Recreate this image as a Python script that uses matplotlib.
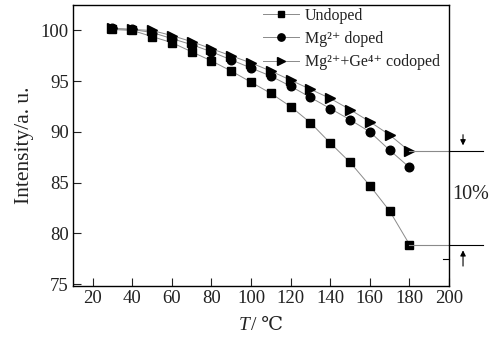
import matplotlib
matplotlib.use('Agg')
import matplotlib.pyplot as plt
import matplotlib.transforms as mtransforms

# --- data ---
temps = [30, 40, 50, 60, 70, 80, 90, 100, 110, 120, 130, 140, 150, 160, 170, 180]
undoped = [100.1, 100.0, 99.4, 98.8, 97.9, 97.0, 96.0, 94.9, 93.8, 92.5, 90.9, 88.9, 87.0, 84.7, 82.2, 78.9]
mg_doped = [100.2, 100.1, 99.8, 99.2, 98.6, 97.9, 97.1, 96.3, 95.5, 94.5, 93.4, 92.3, 91.2, 90.0, 88.2, 86.5]
codoped = [100.2, 100.1, 100.0, 99.5, 98.9, 98.2, 97.5, 96.8, 96.0, 95.1, 94.2, 93.3, 92.2, 91.0, 89.7, 88.1]
labels = ['Undoped', 'Mg\u00b2\u207a doped', 'Mg\u00b2\u207a+Ge\u2074\u207a codoped']
xticks = list(range(20, 201, 20))
yticks = [75, 80, 85, 90, 95, 100]

plt.rcParams['font.family'] = ['Liberation Serif', 'DejaVu Serif', 'DejaVu Sans']

fig = plt.figure(figsize=(4.99, 3.41), dpi=100)
ax = fig.add_axes([0.146, 0.161, 0.754, 0.824])

line_kw = dict(color='#8a8a8a', lw=0.7, markerfacecolor='black', markeredgecolor='black')
ax.plot(temps, undoped, marker='s', ms=5.8, label=labels[0], **line_kw)
ax.plot(temps, mg_doped, marker='o', ms=6.2, label=labels[1], **line_kw)
ax.plot(temps, codoped, marker='>', ms=6.5, label=labels[2], **line_kw)

ax.set_xlim(10, 200)
ax.set_ylim(74.8, 102.5)
ax.set_xticks(xticks)
ax.set_yticks(yticks)
ax.tick_params(direction='in', labelsize=13.5, length=6, width=0.8,
               colors='#222222', pad=3)
for s in ax.spines.values():
    s.set_linewidth(1.0)

ax.set_ylabel('Intensity/a. u.', fontsize=15.5, labelpad=5, color='#222222')
# x label: italic T followed by /℃
fig.text(0.500, 0.045, 'T', fontsize=14, style='italic', ha='right', va='center', color='#222222')
fig.text(0.503, 0.045, '/ \u2103', fontsize=14, ha='left', va='center', color='#222222')

leg = ax.legend(loc='upper right', frameon=False, fontsize=11.5, handlelength=2.3,
                handletextpad=0.35, labelspacing=0.45, borderaxespad=0.0,
                bbox_to_anchor=(0.993, 1.013), markerscale=0.85)
for t in leg.get_texts():
    t.set_color('#222222')

# 10% annotation
top_v, bot_v = codoped[-1], undoped[-1]
ax.plot([temps[-1], 200], [top_v, top_v], color='#8a8a8a', lw=0.8)
ax.plot([temps[-1], 200], [bot_v, bot_v], color='#8a8a8a', lw=0.8)
trans = mtransforms.blended_transform_factory(ax.transAxes, ax.transData)
ax.plot([1.0, 1.09], [top_v, top_v], color='black', lw=0.8, transform=trans, clip_on=False)
ax.plot([1.0, 1.09], [bot_v, bot_v], color='black', lw=0.8, transform=trans, clip_on=False)
ax.plot([0.983, 1.0], [77.5, 77.5], color='black', lw=0.8, transform=trans, clip_on=False)
ax.annotate('', xy=(1.037, top_v + 0.3), xytext=(1.037, top_v + 1.9),
            xycoords=trans, textcoords=trans,
            arrowprops=dict(arrowstyle='-|>', color='black', lw=0.8, mutation_scale=8))
ax.annotate('', xy=(1.037, bot_v - 0.3), xytext=(1.037, bot_v - 2.4),
            xycoords=trans, textcoords=trans,
            arrowprops=dict(arrowstyle='-|>', color='black', lw=0.8, mutation_scale=8))
ax.text(1.008, (top_v + bot_v) / 2 + 0.3, '10%', transform=trans, fontsize=14.5,
        ha='left', va='center', clip_on=False, color='#222222')

fig.savefig('out.png', dpi=100)
